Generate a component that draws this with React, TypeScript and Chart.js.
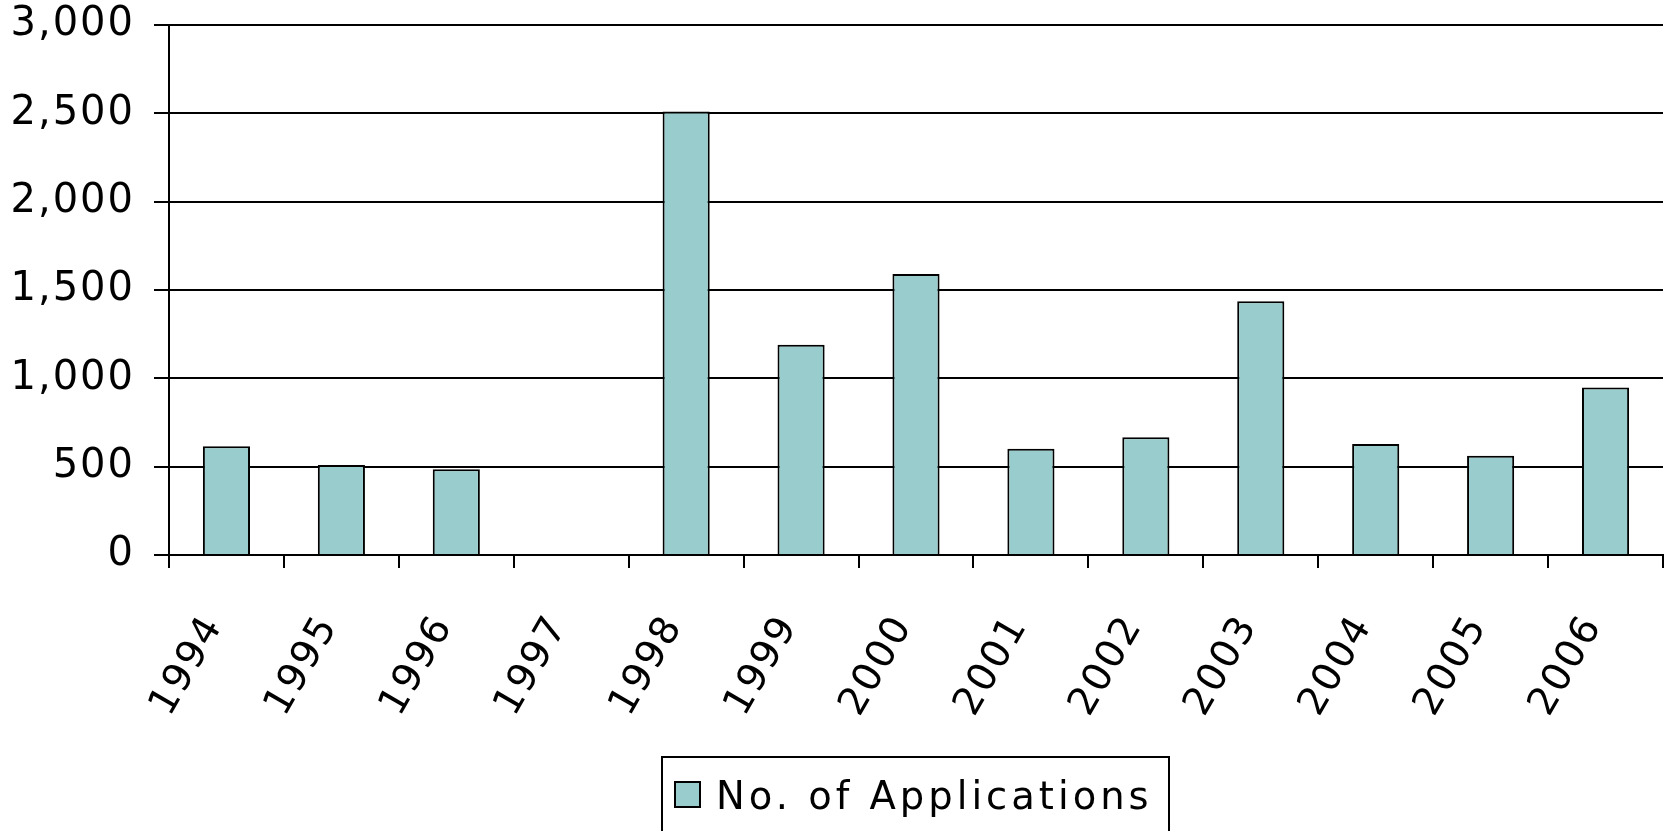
import React, { useEffect, useRef } from 'react';
import { Chart, registerables } from 'chart.js';

Chart.register(...registerables);

// ---- data ----
const categories: string[] = ['1994', '1995', '1996', '1997', '1998', '1999', '2000', '2001', '2002', '2003', '2004', '2005', '2006'];
const applications: (number | null)[] = [615, 510, 486, null, 2511, 1190, 1591, 601, 667, 1436, 629, 562, 948];
const yTickValues: number[] = [0, 500, 1000, 1500, 2000, 2500, 3000];
const seriesLabel = 'No. of Applications';

const BAR_COLOR = '#99CCCC';
const FONT = '"DejaVu Sans", Verdana, sans-serif';

const spacingPlugin = {
  id: 'letterSpacing',
  beforeDraw(chart: any) {
    (chart.ctx as any).letterSpacing = '2px';
  },
};

const legendBoxPlugin = {
  id: 'legendBox',
  afterDraw(chart: any) {
    const ctx = chart.ctx as CanvasRenderingContext2D;
    const ds = chart.data.datasets[0];
    ctx.save();
    (ctx as any).letterSpacing = '4px';
    const left = 662;
    const top = 757;
    const right = 1169;
    ctx.lineWidth = 2;
    ctx.strokeStyle = '#000';
    ctx.strokeRect(left, top, right - left, 120);
    // sample square
    ctx.fillStyle = ds.backgroundColor;
    ctx.fillRect(675, 782, 25, 25);
    ctx.lineWidth = 2;
    ctx.strokeRect(675, 782, 25, 25);
    // label
    ctx.fillStyle = '#000';
    ctx.font = `38.5px ${FONT}`;
    ctx.textAlign = 'left';
    ctx.textBaseline = 'alphabetic';
    ctx.fillText(ds.label, 716, 809);
    ctx.restore();
  },
};

export default function App() {
  const canvasRef = useRef<HTMLCanvasElement | null>(null);

  useEffect(() => {
    const canvas = canvasRef.current;
    if (!canvas) return;
    const chart = new Chart(canvas, {
      type: 'bar',
      data: {
        labels: categories,
        datasets: [
          {
            label: seriesLabel,
            data: applications,
            backgroundColor: BAR_COLOR,
            borderColor: '#000',
            borderWidth: 2,
            borderSkipped: 'bottom',
            barPercentage: 0.41,
            categoryPercentage: 1,
          },
        ],
      },
      options: {
        responsive: false,
        animation: false,
        devicePixelRatio: 1,
        layout: { padding: { top: 25, right: 6, bottom: 0, left: 0 } },
        plugins: {
          legend: { display: false },
          tooltip: { enabled: false },
          title: { display: false },
        },
        scales: {
          x: {
            offset: true,
            grid: {
              offset: true,
              drawOnChartArea: true,
              drawTicks: true,
              tickLength: 13,
              lineWidth: 2,
              tickColor: '#000',
              color: (ctx: any) => (ctx.index === categories.length ? '#000' : 'rgba(0,0,0,0)'),
            },
            border: { display: true, color: '#000', width: 2 },
            ticks: {
              color: '#000',
              font: { family: FONT, size: 39 },
              minRotation: 60,
              maxRotation: 60,
              padding: 40,
              labelOffset: -12,
              autoSkip: false,
            },
            afterFit: (scale: any) => {
              scale.height = 276;
              scale.paddingLeft = 0;
              scale.paddingRight = 0;
            },
          },
          y: {
            min: 0,
            max: 3000,
            afterBuildTicks: (scale: any) => {
              scale.ticks = yTickValues.map((v) => ({ value: v }));
            },
            grid: {
              color: '#000',
              lineWidth: 2,
              drawTicks: true,
              tickLength: 15,
              tickColor: '#000',
            },
            border: { display: true, color: '#000', width: 2 },
            ticks: {
              color: '#000',
              font: { family: FONT, size: 40 },
              padding: 19,
              callback: (v: any) => Number(v).toLocaleString('en-US'),
            },
            afterFit: (scale: any) => {
              scale.width = 169;
              scale.paddingTop = 0;
              scale.paddingBottom = 0;
            },
          },
        },
      },
      plugins: [spacingPlugin, legendBoxPlugin],
    });
    return () => chart.destroy();
  }, []);

  return (
    <div style={{ position: 'fixed', left: 0, top: 0, width: 1669, height: 831, background: '#fff' }}>
      <canvas ref={canvasRef} width={1669} height={831} style={{ display: 'block' }} />
    </div>
  );
}
